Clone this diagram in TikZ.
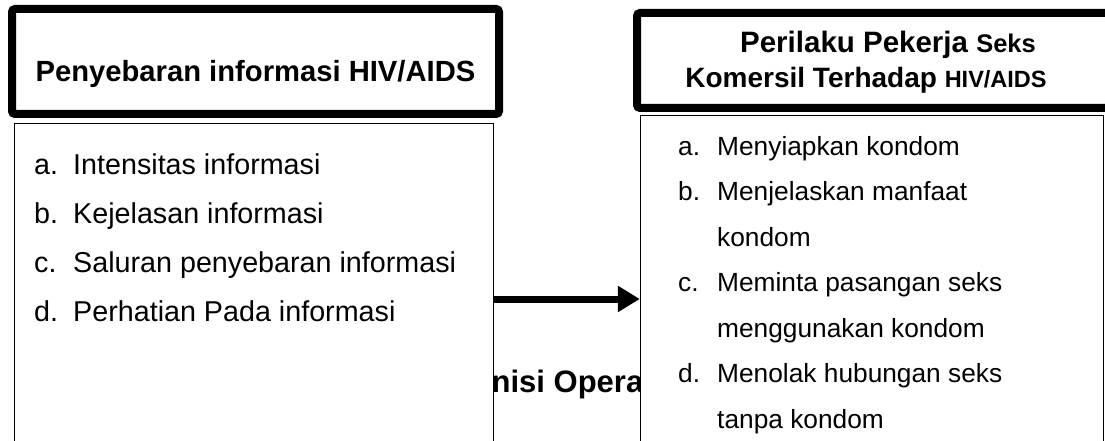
\documentclass[tikz,border=0pt]{standalone}
\usepackage{fontspec}
\setmainfont{Liberation Sans}
\usetikzlibrary{arrows.meta}
\tikzset{
  headbox/.style={draw=black, line width=8pt, rounded corners=3pt, fill=white},
  listbox/.style={draw=black, line width=1.6pt, fill=white},
  lefttxt/.style={anchor=base west, inner sep=0pt, font=\fontsize{28.7}{30}\selectfont},
  righttxt/.style={anchor=base west, inner sep=0pt, font=\fontsize{26.3}{28}\selectfont},
  conn/.style={line width=7pt, -{Triangle[length=22pt,width=25pt]}}
}
\begin{document}
\begin{tikzpicture}[x=1pt,y=-1pt]
\useasboundingbox[fill=white] (0,0) rectangle (1105,441);
% text lying behind the boxes
\node[anchor=base, inner sep=0pt, font=\bfseries\fontsize{31}{33}\selectfont] (def) at (583,392) {Definisi Operasional};
% left header
\draw[headbox] (12,9) rectangle (499,114);
\node[anchor=base, inner sep=0pt, font=\bfseries\fontsize{29.2}{31}\selectfont] (lh) at (255.5,82) {Penyebaran informasi HIV/AIDS};
% left list box
\node[listbox, anchor=north west, minimum width=479pt, minimum height=330pt, inner sep=0pt] (L) at (13.8,122.8) {};
\node[lefttxt] (la) at (34,174) {a.};
\node[lefttxt] (lat) at (73,174) {Intensitas informasi};
\node[lefttxt] (lb) at (34,223) {b.};
\node[lefttxt] (lbt) at (73,223) {Kejelasan informasi};
\node[lefttxt] (lc) at (34,272) {c.};
\node[lefttxt] (lct) at (73,272) {Saluran penyebaran informasi};
\node[lefttxt] (ld) at (34,321) {d.};
\node[lefttxt] (ldt) at (73,321) {Perhatian Pada informasi};
% right header
\draw[headbox] (637,13) rectangle (1125,108);
\node[anchor=base, inner sep=0pt, font=\bfseries] (rh1) at (888,53) {\fontsize{29.5}{31}\selectfont Perilaku Pekerja \fontsize{25.5}{27}\selectfont Seks};
\node[anchor=base, inner sep=0pt, font=\bfseries] (rh2) at (866,88) {\fontsize{28}{30}\selectfont Komersil Terhadap \fontsize{23.5}{25}\selectfont HIV/AIDS};
% right list box
\node[listbox, anchor=north west, minimum width=463pt, minimum height=340pt, inner sep=0pt] (R) at (639.8,114.8) {};
\node[righttxt] (ra) at (678,155) {a.};
\node[righttxt] (rat) at (717,155) {Menyiapkan kondom};
\node[righttxt] (rb) at (678,200.5) {b.};
\node[righttxt] (rbt) at (717,200.5) {Menjelaskan manfaat};
\node[righttxt] (rbt2) at (717,246) {kondom};
\node[righttxt] (rc) at (678,291.5) {c.};
\node[righttxt] (rct) at (717,291.5) {Meminta pasangan seks};
\node[righttxt] (rct2) at (717,337) {menggunakan kondom};
\node[righttxt] (rd) at (678,382.5) {d.};
\node[righttxt] (rdt) at (717,382.5) {Menolak hubungan seks};
\node[righttxt] (rdt2) at (717,428) {tanpa kondom};
% connector
\coordinate (ay) at (0,299);
\draw[conn] (L.east |- ay) -- (R.west |- ay);
\end{tikzpicture}
\end{document}
